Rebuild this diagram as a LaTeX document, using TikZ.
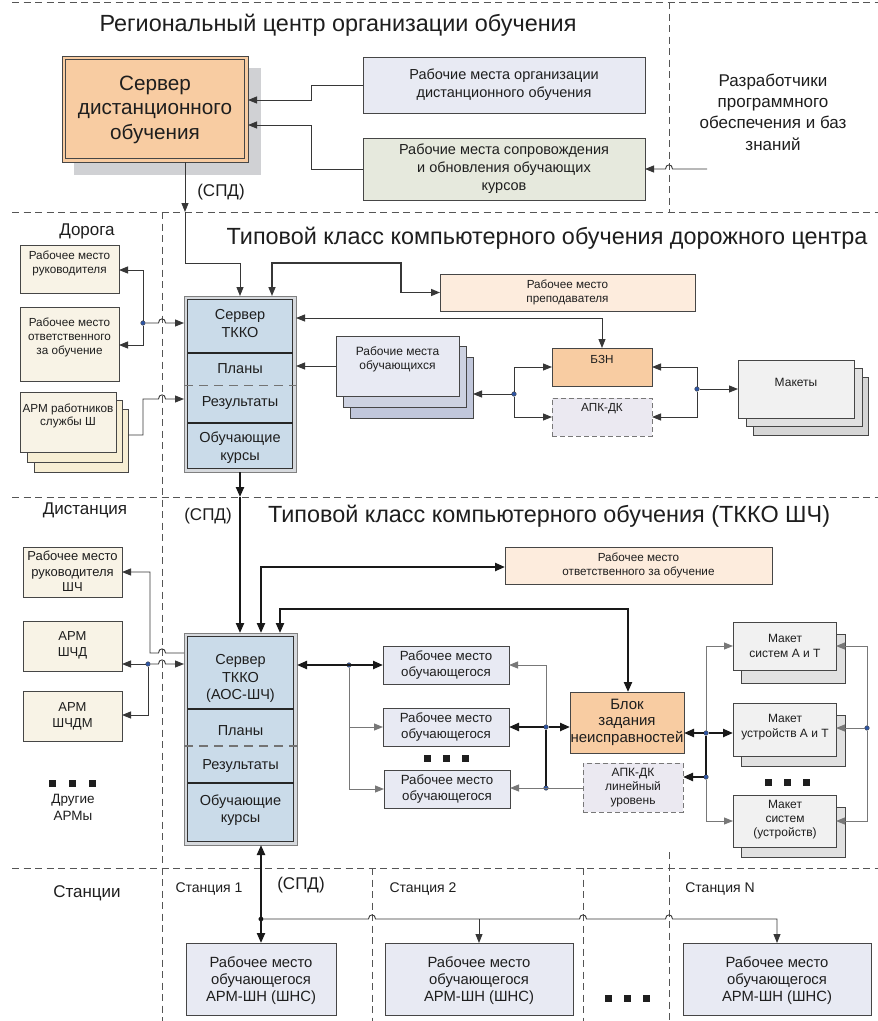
\documentclass[tikz,border=0pt]{standalone}
\usepackage{fontspec}
\setmainfont{Liberation Sans}
\usetikzlibrary{arrows.meta,fit}
\definecolor{txc}{RGB}{30,30,30}
\definecolor{bdc}{RGB}{70,70,70}
\definecolor{lnc}{RGB}{55,55,55}
\definecolor{glc}{RGB}{120,120,120}
\definecolor{sepc}{RGB}{85,85,85}
\definecolor{cPeach}{RGB}{248,204,162}
\definecolor{cShadow}{RGB}{208,209,212}
\definecolor{cLav}{RGB}{232,234,243}
\definecolor{cGreen}{RGB}{230,233,221}
\definecolor{cCream}{RGB}{248,243,230}
\definecolor{cCreamB}{RGB}{247,238,212}
\definecolor{cBlue}{RGB}{202,219,233}
\definecolor{cBand}{RGB}{214,217,221}
\definecolor{cLPeach}{RGB}{253,236,221}
\definecolor{cApk}{RGB}{235,233,241}
\definecolor{cGrA}{RGB}{241,241,241}
\definecolor{cGrB}{RGB}{225,225,225}
\definecolor{cGrC}{RGB}{214,214,214}
\definecolor{cStB}{RGB}{205,210,225}
\definecolor{cStC}{RGB}{193,199,219}
\definecolor{cDot}{RGB}{45,85,165}
\begin{document}
\begin{tikzpicture}[x=1pt,y=-1pt,
  bx/.style={draw=bdc, line width=0.9pt, inner sep=0pt, outer sep=0pt},
  dbx/.style={draw=glc, line width=1pt, dash pattern=on 5pt off 3pt, inner sep=0pt, outer sep=0pt},
  tx/.style={inner sep=0pt, align=center, text=txc},
  fs/.style 2 args={font=\fontsize{#1}{#2}\selectfont},
  ln/.style={draw=lnc, line width=0.9pt},
  lnm/.style={draw=lnc, line width=1.5pt},
  tk/.style={draw=black!90, line width=2.2pt},
  gl/.style={draw=glc, line width=1pt},
  ar/.style={-{Triangle[length=9pt,width=7pt]}},
  ab/.style={{Triangle[length=9pt,width=7pt]}-{Triangle[length=9pt,width=7pt]}},
  tar/.style={-{Triangle[length=10pt,width=8pt]}},
  tab/.style={{Triangle[length=10pt,width=8pt]}-{Triangle[length=10pt,width=8pt]}},
  sep/.style={draw=sepc, line width=0.8pt, dash pattern=on 7pt off 4.5pt},
  jd/.style={circle, fill=cDot, draw=black!70, line width=0.4pt, inner sep=0pt, minimum size=4.6pt},
  dv/.style={draw=black!85, line width=1.5pt},
  dvd/.style={draw=black!55, line width=1.3pt, dash pattern=on 9pt off 6pt},
  sq/.style={fill=txc}
]
\useasboundingbox (0,0) rectangle (878,1021);
\fill[white] (0,0) rectangle (878,1021);

% ---------- separators ----------
\draw[sep] (12,2) -- (878,2);
\draw[sep] (12,212) -- (878,212);
\draw[sep] (12,497) -- (878,497);
\draw[sep] (12,868) -- (878,868);
\draw[sep] (669,2) -- (669,212);
\draw[sep] (162,212) -- (162,1021);
\draw[sep] (372,868) -- (372,1021);
\draw[sep] (583,868) -- (583,1021);
\draw[sep] (669,852) -- (669,1021);

% ---------- section 1 ----------
\node[tx, fs={23.4}{28}] (title1) at (338,25) {Региональный центр организации обучения};
\node[fill=cShadow, inner sep=0pt, fit={(74,68) (261,175)}] (srvsh) {};
\node[bx, fill=cPeach, fit={(62,56) (248,162)}] (srv) {};
\node[bx, fit={(65.5,59.5) (244.5,158.5)}] (srvi) {};
\node[tx, fs={20.7}{24.5}] (srvt) at (155,109.5) {Сервер\\дистанционного\\обучения};

\node[bx, fill=cLav, fit={(363,57) (645,113)}] (org) {};
\node[tx, fs={14.5}{18}] (orgt) at (504,85) {Рабочие места организации\\дистанционного обучения};
\node[bx, fill=cGreen, fit={(363,138) (645,200)}] (sup) {};
\node[tx, fs={14.5}{18}] (supt) at (504,169) {Рабочие места сопровождения\\и обновления обучающих\\курсов};
\node[tx, fs={17}{21.3}] (dev) at (773,112) {Разработчики\\программного\\обеспечения и баз\\знаний};
\coordinate (devend) at (707,169);
\node[tx, fs={17}{20}] (spdA) at (221,192) {(СПД)};

\draw[ln,ar] (org.west) -- (311,85) -- (311,100) -- (srv.east |- 0,100);
\draw[ln,ar] (sup.west) -- (311,169) -- (311,125) -- (srv.east |- 0,125);
\draw[ln,ar] (devend) -- (672.5,169) .. controls (672.5,163.5) and (665.5,163.5) .. (665.5,169) -- (sup.east);

% ---------- section 2 ----------
\node[tx, fs={17}{20}] (doroga) at (87,231) {Дорога};
\node[tx, fs={23.4}{28}] (title2) at (547,238) {Типовой класс компьютерного обучения дорожного центра};

\node[bx, fill=cCream, fit={(20,245) (119,293)}] (rk1) {};
\node[tx, fs={11.7}{14}] (rk1t) at (69.5,263) {Рабочее место\\руководителя};
\node[bx, fill=cCream, fit={(20,307) (119,381)}] (ot1) {};
\node[tx, fs={11.7}{14}] (ot1t) at (69.5,337) {Рабочее место\\ответственного\\за обучение};
\node[bx, fill=cCreamB, fit={(34,409) (128,472)}] (armc) {};
\node[bx, fill=cCreamB, fit={(27,400) (122,462)}] (armb) {};
\node[bx, fill=cCream, fit={(20,392) (116,452)}] (arma) {};
\node[tx, fs={11.7}{13.5}] (armt) at (68,416) {АРМ работников\\службы Ш};

\node[bx, draw=black!50, fill=cBand, fit={(184,296) (296,472)}] (tk1) {};
\node[bx, draw=black!80, fill=cBlue, fit={(187.5,299.5) (292.5,468.5)}] (tk1i) {};
\draw[dv] (tk1i.west |- 0,353) -- (tk1i.east |- 0,353);
\draw[dvd] (tk1.west |- 0,385.5) -- (tk1.east |- 0,385.5);
\draw[dv] (tk1i.west |- 0,423) -- (tk1i.east |- 0,423);
\node[tx, fs={14.5}{18}] (tk1a) at (240,324) {Сервер\\ТККО};
\node[tx, fs={14.5}{18}] (tk1b) at (240,369) {Планы};
\node[tx, fs={14.5}{18}] (tk1c) at (240,403.5) {Результаты};
\node[tx, fs={14.5}{18}] (tk1d) at (240,448) {Обучающие\\курсы};

\node[bx, fill=cLPeach, fit={(440,274) (695,311)}] (teach) {};
\node[tx, fs={11.7}{13.5}] (teacht) at (567.5,292.5) {Рабочее место\\преподавателя};

\node[bx, fill=cStC, fit={(350,357) (473,418)}] (stc) {};
\node[bx, fill=cStB, fit={(343,346) (466,407)}] (stb) {};
\node[bx, fill=cLav, fit={(336,336) (459,396)}] (stf) {};
\node[tx, fs={12}{14.5}] (stt) at (397.5,359.5) {Рабочие места\\обучающихся};

\node[bx, fill=cPeach, fit={(552,348) (652,386)}] (bzn) {};
\node[tx, fs={11.7}{14}] (bznt) at (602,359) {БЗН};
\node[dbx, fill=cApk, fit={(552,398) (652,436)}] (apk) {};
\node[tx, fs={11.7}{14}] (apkt) at (602,409) {АПК-ДК};

\node[bx, fill=cGrC, fit={(753,377) (868,435)}] (mkc) {};
\node[bx, fill=cGrB, fit={(746,368) (862,426)}] (mkb) {};
\node[bx, fill=cGrA, fit={(738,360) (854,418)}] (mkf) {};
\node[tx, fs={12}{14}] (mkt) at (796,382) {Макеты};

\node[jd] (d1) at (514,394) {};
\node[jd] (d2) at (697,389) {};
\node[jd] (d3) at (143,323) {};

\coordinate (spd1) at (185,212);
\draw[ln,ar] (srv.south -| 185,0) -- (spd1);
\draw[ln,ar] (spd1) -- (185,263) -- (240,263) -- (tk1.north -| 240,0);
\draw[lnm,ab] (tk1.north -| 272,0) -- (272,263) -- (401,263) -- (401,292.5) -- (teach.west);
\draw[ln,ab] (bzn.north) -- (602,318) -- (tk1.east |- 0,318);
\draw[ln,ar] (stf.west) -- (tk1.east |- stf.west);
\draw[ln,ar] (d1) -- (stc.east |- d1);
\draw[ln,ar] (d1) |- (bzn.west);
\draw[ln,ar] (d1) |- (apk.west);
\draw[ln,ar] (d2) |- (bzn.east);
\draw[ln,ar] (d2) |- (apk.east);
\draw[ln,ar] (d2) -- (mkf.west |- d2);
\draw[ln,ar] (d3) |- (rk1.east |- 0,270);
\draw[ln,ar] (d3) |- (ot1.east |- 0,345);
\draw[ln,ar] (d3) -- (158.5,323) .. controls (158.5,317.5) and (165.5,317.5) .. (165.5,323) -- (tk1.west |- 0,323);
\draw[ln,ar] (armc.east |- 0,435) -- (143,435) -- (143,399) -- (158.5,399) .. controls (158.5,393.5) and (165.5,393.5) .. (165.5,399) -- (tk1.west |- 0,399);

\coordinate (spd2) at (240,497);
\draw[tk,tar] (tk1.south) -- (spd2);

% ---------- section 3 ----------
\node[tx, fs={17}{20}] (dist) at (85,510) {Дистанция};
\node[tx, fs={17}{20}] (spdB) at (208,516) {(СПД)};
\node[tx, fs={23.4}{28}] (title3) at (549,516) {Типовой класс компьютерного обучения (ТККО ШЧ)};

\node[bx, fill=cCream, fit={(23,547) (122,597)}] (rs) {};
\node[tx, fs={13}{15.5}] (rst) at (72.5,571.5) {Рабочее место\\руководителя\\ШЧ};
\node[bx, fill=cCream, fit={(23,621) (122,671)}] (shd) {};
\node[tx, fs={13}{16.5}] (shdt) at (72.5,645.5) {АРМ\\ШЧД};
\node[bx, fill=cCream, fit={(23,691) (122,741)}] (shdm) {};
\node[tx, fs={13}{16.5}] (shdmt) at (72.5,716.5) {АРМ\\ШЧДМ};
\fill[sq] (49,779.5) rectangle (56,786.5);
\fill[sq] (69,779.5) rectangle (76,786.5);
\fill[sq] (89,779.5) rectangle (96,786.5);
\node[tx, fs={13.5}{17}] (other) at (73,807.5) {Другие\\АРМы};

\node[bx, draw=black!50, fill=cBand, fit={(184,633) (297,845)}] (tk2) {};
\node[bx, draw=black!80, fill=cBlue, fit={(187.5,636.5) (293.5,841.5)}] (tk2i) {};
\draw[dv] (tk2i.west |- 0,709) -- (tk2i.east |- 0,709);
\draw[dvd] (tk2.west |- 0,746) -- (tk2.east |- 0,746);
\draw[dv] (tk2i.west |- 0,783) -- (tk2i.east |- 0,783);
\node[tx, fs={14.5}{17.5}] (tk2a) at (240.5,678.5) {Сервер\\ТККО\\(АОС-ШЧ)};
\node[tx, fs={14.5}{17.5}] (tk2b) at (240.5,731) {Планы};
\node[tx, fs={14.5}{17.5}] (tk2c) at (240.5,766) {Результаты};
\node[tx, fs={14.5}{17.5}] (tk2d) at (240.5,810) {Обучающие\\курсы};

\node[bx, fill=cLPeach, fit={(505,547) (772,584)}] (resp) {};
\node[tx, fs={11.7}{14}] (respt) at (638.5,565.5) {Рабочее место\\ответственного за обучение};

\node[bx, fill=cLav, fit={(383,646) (509,684)}] (s1) {};
\node[tx, fs={13.3}{16}] (s1t) at (446,665) {Рабочее место\\обучающегося};
\node[bx, fill=cLav, fit={(383,708) (509,746)}] (s2) {};
\node[tx, fs={13.3}{16}] (s2t) at (446,727) {Рабочее место\\обучающегося};
\node[bx, fill=cLav, fit={(384,770) (510,808)}] (s3) {};
\node[tx, fs={13.3}{16}] (s3t) at (447,789) {Рабочее место\\обучающегося};
\fill[sq] (424,754.5) rectangle (431,761.5);
\fill[sq] (443,754.5) rectangle (450,761.5);
\fill[sq] (462,754.5) rectangle (469,761.5);

\node[bx, fill=cPeach, fit={(570,692) (684,753)}] (blk) {};
\node[tx, fs={15}{16.5}] (blkt) at (627,722) {Блок\\задания\\неисправностей};
\node[dbx, fill=cApk, fit={(583,763) (683,812)}] (apk2) {};
\node[tx, fs={12}{14}] (apk2t) at (633,788) {АПК-ДК\\линейный\\уровень};

\node[bx, fill=cGrB, fit={(741,634) (845,683)}] (m1b) {};
\node[bx, fill=cGrA, fit={(733,622) (836,670)}] (m1f) {};
\node[tx, fs={12}{14.5}] (m1t) at (785,646) {Макет\\систем А и Т};
\node[bx, fill=cGrB, fit={(741,715) (845,766)}] (m2b) {};
\node[bx, fill=cGrA, fit={(733,703) (836,756)}] (m2f) {};
\node[tx, fs={12}{15}] (m2t) at (785,727) {Макет\\устройств А и Т};
\node[bx, fill=cGrB, fit={(741,807) (845,857)}] (m3b) {};
\node[bx, fill=cGrA, fit={(733,795) (836,847)}] (m3f) {};
\node[tx, fs={12}{14}] (m3t) at (785,820) {Макет\\систем\\(устройств)};
\fill[sq] (764.5,778.5) rectangle (771.5,785.5);
\fill[sq] (783.5,778.5) rectangle (790.5,785.5);
\fill[sq] (802.5,778.5) rectangle (809.5,785.5);

\node[jd] (d4) at (349,665) {};
\node[jd] (d5) at (546,727) {};
\node[jd] (d6) at (546,788) {};
\node[jd] (d7) at (706,733) {};
\node[jd] (d8) at (706,777) {};
\node[jd] (d9) at (867,728) {};
\node[jd] (d10) at (148,664) {};

\draw[tk,tar] (spd2) -- (tk2.north -| 240,0);
\draw[tk,tab] (tk2.north -| 261,0) -- (261,567) -- (resp.west |- 0,567);
\draw[tk,tab] (tk2.north -| 280,0) -- (280,609) -- (628,609) -- (blk.north -| 628,0);
\draw[tk,tab] (tk2.east |- s1.west) -- (s1.west);
\draw[gl,ar] (d4) |- (s2.west);
\draw[gl,ar] (d4) |- (s3.west);
\draw[gl,ar] (d5) |- (s1.east);
\draw[tk,tar] (d5) -- (s2.east);
\draw[tk,tar] (d5) -- (blk.west |- d5);
\draw[tk] (d5) -- (d6);
\draw[gl,ar] (apk2.west |- d6) -- (s3.east |- d6);
\draw[tk,tar] (d7) -- (blk.east |- d7);
\draw[tk,tar] (d7) -- (m2f.west |- d7);
\draw[tk] (d7) -- (d8);
\draw[tk,tar] (d8) -- (apk2.east |- d8);
\draw[gl,ar] (d7) |- (m1f.west);
\draw[gl,ar] (d8) |- (m3f.west);
\draw[gl,ar] (d9) -- (m2f.east |- d9);
\draw[gl,ar] (d9) |- (m1f.east);
\draw[gl,ar] (d9) |- (m3f.east);
\draw[ln,ar] (tk2.west |- 0,653) -- (165.5,653) .. controls (165.5,647.5) and (158.5,647.5) .. (158.5,653) -- (150,653) -- (150,572) -- (rs.east);
\draw[ln,ar] (d10) -- (shd.east |- d10);
\draw[ln,ar] (d10) |- (shdm.east |- 0,715);
\draw[ln,ar] (d10) -- (158.5,664) .. controls (158.5,658.5) and (165.5,658.5) .. (165.5,664) -- (tk2.west |- d10);

% ---------- section 4 ----------
\node[tx, fs={17}{20}] (stan) at (87,893) {Станции};
\node[tx, fs={14}{17}] (st1) at (209,889) {Станция 1};
\node[tx, fs={17}{20}] (spdC) at (301,885) {(СПД)};
\node[tx, fs={14}{17}] (st2) at (423,889) {Станция 2};
\node[tx, fs={14}{17}] (stN) at (720,889) {Станция N};

\node[bx, fill=cLav, fit={(186,943) (336,1015)}] (b1) {};
\node[tx, fs={14.8}{17}] (b1t) at (261,981) {Рабочее место\\обучающегося\\АРМ-ШН (ШНС)};
\node[bx, fill=cLav, fit={(385,943) (573,1015)}] (b2) {};
\node[tx, fs={14.8}{17}] (b2t) at (479,981) {Рабочее место\\обучающегося\\АРМ-ШН (ШНС)};
\node[bx, fill=cLav, fit={(683,943) (871,1015)}] (bN) {};
\node[tx, fs={14.8}{17}] (bNt) at (777,981) {Рабочее место\\обучающегося\\АРМ-ШН (ШНС)};
\fill[sq] (604.5,994.5) rectangle (611.5,1001.5);
\fill[sq] (623.5,994.5) rectangle (630.5,1001.5);
\fill[sq] (642.5,994.5) rectangle (649.5,1001.5);

\node[jd, fill=black] (d11) at (261,919) {};
\coordinate (j2) at (479,919);
\draw[tk,tab] (tk2.south -| 261,0) -- (b1.north);
\draw[ln,ar] (d11) -- (368.5,919) .. controls (368.5,913.5) and (375.5,913.5) .. (375.5,919) -- (579.5,919) .. controls (579.5,913.5) and (586.5,913.5) .. (586.5,919) -- (665.5,919) .. controls (665.5,913.5) and (672.5,913.5) .. (672.5,919) -- (777,919) -- (bN.north);
\draw[ln,ar] (j2) -- (b2.north);
\end{tikzpicture}
\end{document}
